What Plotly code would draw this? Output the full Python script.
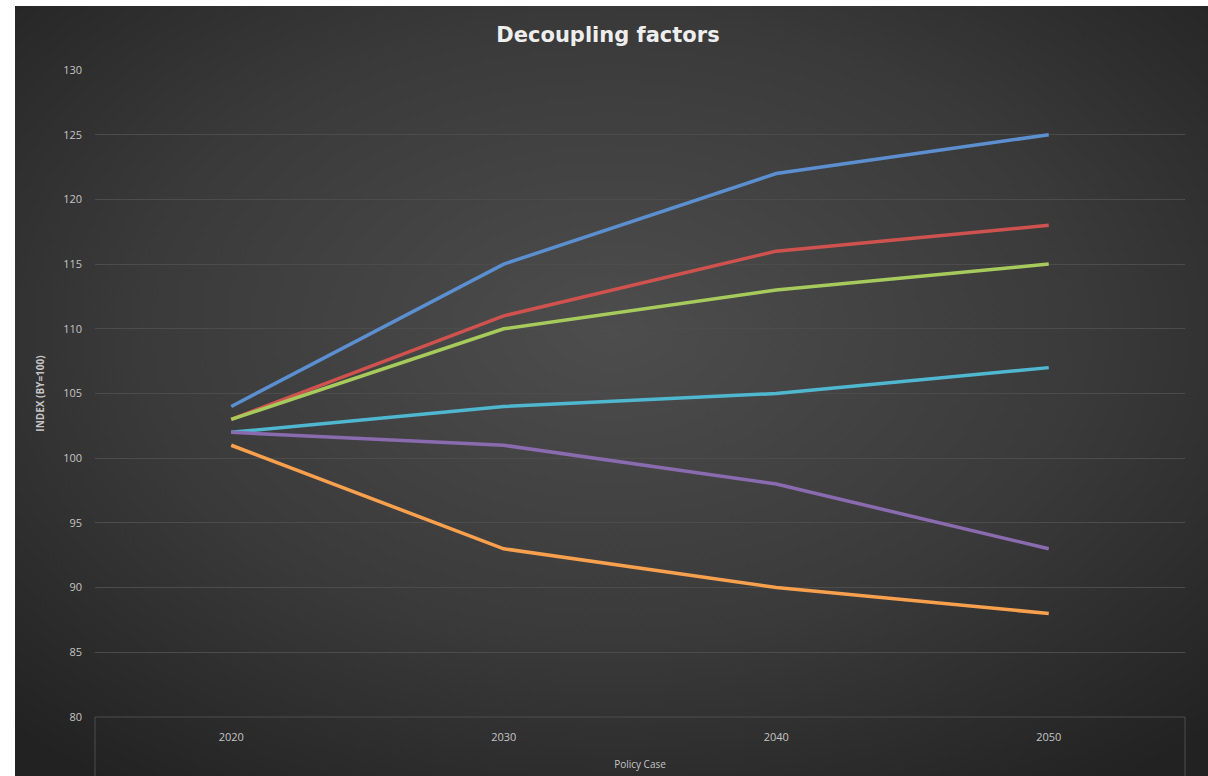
import base64
import plotly.graph_objects as go

years = ["2020", "2030", "2040", "2050"]
series_names = ["Series 1", "Series 2", "Series 3", "Series 4", "Series 5", "Series 6"]
blue = [104, 115, 122, 125]
red = [103, 111, 116, 118]
green = [103, 110, 113, 115]
cyan = [102, 104, 105, 107]
purple = [102, 101, 98, 93]
orange = [101, 93, 90, 88]
y_ticks = [80, 85, 90, 95, 100, 105, 110, 115, 120, 125, 130]

series = [blue, red, green, cyan, purple, orange]
colors = ["#5b8fd0", "#d0524f", "#a6cb5c", "#4fb8d0", "#8a6bb0", "#f8a04d"]

W, H = 1208, 776
L, R, T, B = 95, 23, 70, 59
pw, ph = W - L - R, H - T - B

svg = f'''<svg xmlns="http://www.w3.org/2000/svg" width="1193" height="780" viewBox="0 0 1193 780" preserveAspectRatio="none">
<defs><radialGradient id="g" cx="0.5" cy="0.42" r="0.72" gradientUnits="objectBoundingBox">
<stop offset="0" stop-color="#4d4d4d"/><stop offset="0.55" stop-color="#3a3a3a"/><stop offset="1" stop-color="#222222"/></radialGradient></defs>
<rect width="1193" height="780" fill="url(#g)"/></svg>'''
src = "data:image/svg+xml;base64," + base64.b64encode(svg.encode()).decode()

fig = go.Figure()
for name, vals, c in zip(series_names, series, colors):
    fig.add_trace(go.Scatter(x=years, y=vals, mode="lines", name=name,
                             line=dict(color=c, width=3.5), showlegend=False))

def px(xp):
    return (xp - L) / pw

def py(yp):
    return (H - B - yp) / ph

fig.add_layout_image(dict(source=src, xref="paper", yref="paper",
                          x=px(15), y=py(6), sizex=(W - 15) / pw, sizey=(H + 4 - 6) / ph,
                          xanchor="left", yanchor="top", sizing="stretch", layer="below"))

# category axis box lines
for xp in (95, 1185):
    fig.add_shape(type="line", xref="paper", yref="paper",
                  x0=px(xp), x1=px(xp), y0=0, y1=py(H),
                  line=dict(color="#4c4c4c", width=1))
fig.add_shape(type="line", xref="paper", yref="paper", x0=0, x1=1, y0=0, y1=0,
              line=dict(color="#4c4c4c", width=1))

fig.update_layout(
    width=W, height=H,
    margin=dict(l=L, r=R, t=T, b=B, pad=0, autoexpand=False),
    paper_bgcolor="white",
    plot_bgcolor="rgba(0,0,0,0)",
    title=dict(text="<b>Decoupling factors</b>", x=608 / W, xref="container", xanchor="center",
               y=1 - 35 / H, yanchor="middle",
               font=dict(family="DejaVu Sans", size=21, color="#eeeeee")),
    xaxis=dict(range=[-0.5, 3.5], showgrid=False, zeroline=False, showline=False,
               ticks="", ticklabelstandoff=12, automargin=False,
               tickfont=dict(family="Open Sans", size=11, color="#c4c4c4"),
               title=dict(text="Policy Case", standoff=17,
                          font=dict(family="Open Sans", size=10, color="#c4c4c4"))),
    yaxis=dict(range=[80, 130], tickvals=y_ticks, showgrid=True, gridcolor="#4c4c4c",
               gridwidth=1, zeroline=False, showline=False, ticks="",
               ticklabelstandoff=12, automargin=False,
               tickfont=dict(family="Open Sans", size=11, color="#c4c4c4"),
               title=dict(text="<b>INDEX (BY=100)</b>", standoff=16,
                          font=dict(family="Open Sans", size=10, color="#c4c4c4"))),
)

fig.write_html("out.html")
